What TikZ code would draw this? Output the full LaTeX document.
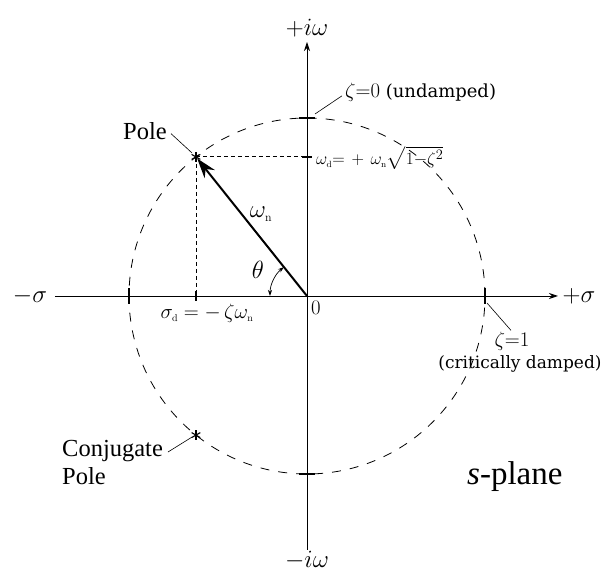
\documentclass[tikz,border=0pt]{standalone}
\usepackage{amsmath,amssymb}
\usepackage[no-math]{fontspec}
\setmainfont{Liberation Serif}
\newfontfamily\wideserif{DejaVu Serif}
\usetikzlibrary{arrows.meta,calc,positioning}

\newcommand{\subup}[1]{_{\scriptscriptstyle\mathrm{#1}}}
\newcommand{\zetaval}[1]{{\fontsize{22}{22}\selectfont$\zeta{=}#1$}}

\begin{document}
\begin{tikzpicture}[x=1pt,y=1pt,
    axisline/.style={line width=0.9pt},
    tickline/.style={line width=1.4pt},
    guide/.style={line width=0.8pt,dash pattern=on 4pt off 3pt},
    ring/.style={line width=0.8pt,dash pattern=on 9pt off 9pt},
    leader/.style={line width=0.6pt},
    starline/.style={line width=1.1pt},
    vector/.style={line width=2pt,-{Stealth[length=20pt,width=13pt]}},
    angarrow/.style={line width=0.7pt,{Stealth[length=6pt,width=4pt]}-{Stealth[length=6pt,width=4pt]}},
    biglbl/.style={inner sep=0pt,font=\fontsize{24}{28}\selectfont},
    midlbl/.style={inner sep=0pt,font=\fontsize{20}{24}\selectfont},
    smalllbl/.style={inner sep=0pt,font=\fontsize{17}{21}\selectfont\wideserif},
    textlbl/.style={inner sep=0pt,font=\fontsize{24.5}{28}\selectfont}]
  \useasboundingbox (-307,-276) rectangle (298,296);

  % axes of the s-plane
  \coordinate (O) at (0,0);
  \coordinate (xl) at (-252,0);
  \coordinate (xr) at (251,0);
  \coordinate (yb) at (0,-254);
  \coordinate (yt) at (0,254);
  \draw[axisline,-{Stealth[length=9pt,width=6pt]}] (xl) -- (xr);
  \draw[axisline,-{Stealth[length=9pt,width=6pt]}] (yb) -- (yt);
  \node[biglbl] (msig) at (-277,0) {$-\sigma$};
  \node[biglbl] (psig) at (272,0) {$+\sigma$};
  \node[biglbl] (piw) at (0,268) {$+i\omega$};
  \node[biglbl] (miw) at (0,-264) {$-i\omega$};
  \node[midlbl,anchor=north west] (orig) at (4,-5) {$0$};

  % circle of constant omega_n
  \draw[ring] (O) circle (178);
  \foreach \a in {0,90,180,270}
    \draw[tickline] ($(O)+(\a:178)+(\a+90:8)$) -- ($(O)+(\a:178)+(\a-90:8)$);

  % pole pair
  \coordinate (P) at (128.6:178);
  \coordinate (Q) at (231.4:178);
  \coordinate (Pw) at (O |- P);
  \coordinate (Ps) at (P |- O);
  \draw[guide] (P) -- (Pw);
  \draw[guide] (P) -- (Ps);
  \draw[tickline] ($(Pw)+(-5,0)$) -- ($(Pw)+(5,0)$);
  \draw[tickline] ($(Ps)+(0,-5)$) -- ($(Ps)+(0,5)$);
  \draw[vector,shorten >=2pt] (O) -- (P);
  \foreach \p in {P,Q}
    \foreach \a in {30,90,150}
      \draw[starline] ($(\p)+(\a:5)$) -- ($(\p)+(\a+180:5)$);
  \draw[angarrow] ($(O)+(180:37)$) arc[start angle=180,end angle=128.6,radius=37];

  % labels
  \node[biglbl] (theta) at (-49,26) {$\theta$};
  \node[biglbl] (wn) at (-46,82) {$\omega\subup{n}$};
  \node[midlbl] (sigd) at (-100,-17) {$\sigma\subup{d} = -\,\zeta\omega\subup{n}$};
  \node[midlbl,anchor=west,font=\fontsize{19}{23}\selectfont] (wd) at (9,138) {$\omega\subup{d}{=}\,+\,\omega\subup{n}\sqrt{1{-}\zeta^2}$};
  \node[smalllbl,anchor=base west,font=\fontsize{18}{22}\selectfont\wideserif] (z0) at (38,198) {\zetaval{0} (undamped)};
  \node[smalllbl,anchor=base] (z1) at (205,-51) {\zetaval{1}};
  \node[smalllbl,anchor=base] (crit) at (213,-73) {(critically damped)};
  \node[textlbl,anchor=base] (polelbl) at (-162,156) {Pole};
  \node[textlbl,anchor=base west,align=left] (cpolelbl) at (-245,-189) {Conjugate\\Pole};
  \node[inner sep=0pt,font=\fontsize{33}{36}\selectfont,anchor=base west] (splane) at (160,-189) {\textit{s}-plane};

  % leader lines
  \coordinate (cl) at (-139,-156);
  \draw[leader] ($(O)+(90:178)+(8,4)$) -- ([shift={(-3,-3)}]z0.west);
  \draw[leader] ($(O)+(0:178)+(2,-7)$) -- ([shift={(-1,2)}]z1.north);
  \draw[leader] ([shift={(4,-2)}]polelbl.east) -- ([shift={(-4,4)}]P);
  \draw[leader] (cl) -- ([shift={(-4,-2)}]Q);
\end{tikzpicture}
\end{document}
